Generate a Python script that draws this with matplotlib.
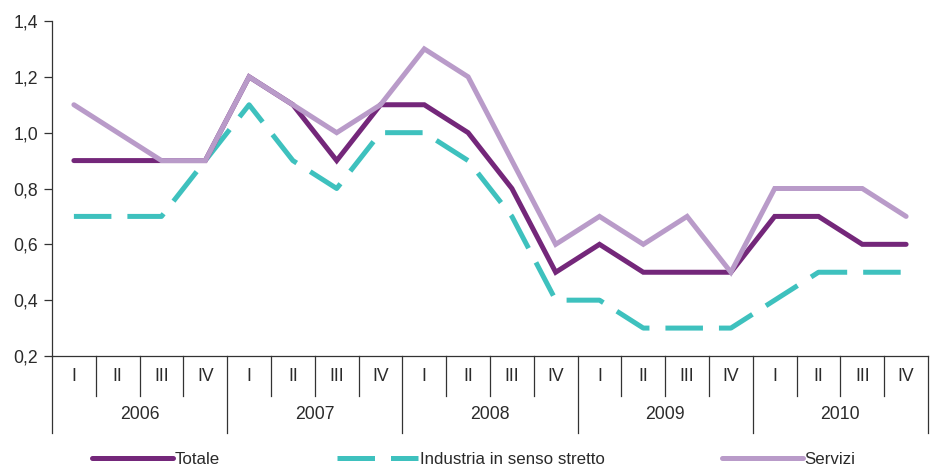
import numpy as np
import matplotlib
matplotlib.use("Agg")
import matplotlib.pyplot as plt
from matplotlib import ticker

plt.rcParams['font.family'] = ['Liberation Sans', 'DejaVu Sans']

anni = ["2006", "2007", "2008", "2009", "2010"]
trimestri = ["I", "II", "III", "IV"]

totale = [0.9, 0.9, 0.9, 0.9, 1.2, 1.1, 0.9, 1.1, 1.1, 1.0, 0.8, 0.5,
          0.6, 0.5, 0.5, 0.5, 0.7, 0.7, 0.6, 0.6]
industria = [0.7, 0.7, 0.7, 0.9, 1.1, 0.9, 0.8, 1.0, 1.0, 0.9, 0.7, 0.4,
             0.4, 0.3, 0.3, 0.3, 0.4, 0.5, 0.5, 0.5]
servizi = [1.1, 1.0, 0.9, 0.9, 1.2, 1.1, 1.0, 1.1, 1.3, 1.2, 0.9, 0.6,
           0.7, 0.6, 0.7, 0.5, 0.8, 0.8, 0.8, 0.7]

c_tot = "#74277a"
c_ind = "#3ec1be"
c_ser = "#b99bc9"
c_txt = "#2a2a2a"
FS = 12.7

W, H = 931, 473
fig = plt.figure(figsize=(W/100, H/100), dpi=100)

# asse principale
x0, x1 = 52, 928
ytop, ybot = 21, 356
ax = fig.add_axes([x0/W, 1-ybot/H, (x1-x0)/W, (ybot-ytop)/H])
n = len(totale)
x = np.arange(n) + 0.5

ax.plot(x, industria, color=c_ind, lw=3.6, dashes=(7.5, 3.2), dash_capstyle='butt',
        label="Industria in senso stretto", zorder=2)
ax.plot(x, totale, color=c_tot, lw=3.6, solid_capstyle='round', solid_joinstyle='miter',
        label="Totale", zorder=3)
ax.plot(x, servizi, color=c_ser, lw=3.6, solid_capstyle='round', solid_joinstyle='miter',
        label="Servizi", zorder=4)

ax.set_xlim(0, n)
ax.set_ylim(0.2, 1.4)
ax.set_yticks(np.arange(0.2, 1.41, 0.2))
ax.yaxis.set_major_formatter(ticker.FuncFormatter(lambda v, p: f"{v:.1f}".replace(".", ",")))
ax.set_xticks([])
for s in ["top", "right"]:
    ax.spines[s].set_visible(False)
for s in ["left", "bottom"]:
    ax.spines[s].set_color("#333333")
    ax.spines[s].set_linewidth(0.9)
ax.tick_params(axis='y', length=6, width=0.9, color="#333333", labelsize=FS,
               labelcolor=c_txt, pad=4)

# tabella trimestri / anni
yq, yy = 396, 433
ax2 = fig.add_axes([x0/W, 1-yy/H, (x1-x0)/W, (yy-ybot)/H])
ax2.set_xlim(0, n)
ax2.set_ylim(0, 1)
ax2.axis('off')
qfrac = (yy-yq)/(yy-ybot)
for i in range(n+1):
    if i % 4 == 0:
        ax2.plot([i, i], [0, 1], color="#333333", lw=0.9, clip_on=False)
    else:
        ax2.plot([i, i], [qfrac, 1], color="#333333", lw=0.9, clip_on=False)
for i in range(n):
    ax2.text(i+0.5, (qfrac+1)/2, trimestri[i % 4], ha='center', va='center',
             fontsize=FS, color=c_txt)
for k, a in enumerate(anni):
    ax2.text(4*k+2, qfrac/2, a, ha='center', va='center', fontsize=FS, color=c_txt)

h, l = ax.get_legend_handles_labels()
order = [1, 0, 2]
leg = fig.legend([h[i] for i in order], [l[i] for i in order], loc='center',
                 bbox_to_anchor=(0.509, 1-459/H), ncol=3, frameon=False, fontsize=12.2,
                 handlelength=4.75, handletextpad=0.1, columnspacing=6.95)
for t in leg.get_texts():
    t.set_color(c_txt)

fig.savefig("out.png", dpi=100)
